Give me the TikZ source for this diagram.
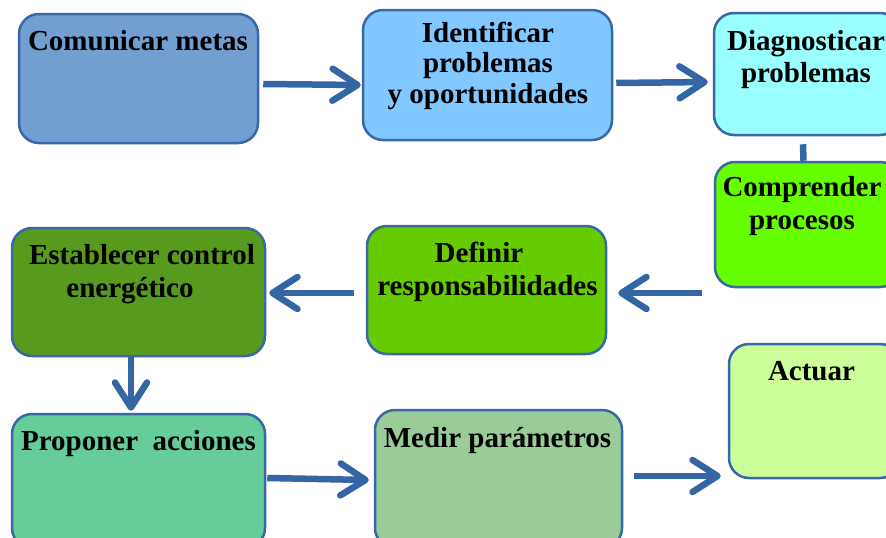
\documentclass[tikz,border=0pt]{standalone}
\usepackage{fontspec}
\setmainfont{Liberation Serif}
\usetikzlibrary{arrows.meta}
\definecolor{edgeblue}{RGB}{58,103,168}
\definecolor{arrowblue}{RGB}{52,101,164}
\definecolor{cA}{RGB}{114,159,207}
\definecolor{cB}{RGB}{128,200,255}
\definecolor{cC}{RGB}{153,255,255}
\definecolor{cD}{RGB}{102,255,0}
\definecolor{cE}{RGB}{102,204,0}
\definecolor{cF}{RGB}{88,154,30}
\definecolor{cG}{RGB}{102,204,153}
\definecolor{cH}{RGB}{153,204,153}
\definecolor{cI}{RGB}{204,255,153}
\tikzset{
  box/.style={draw=edgeblue, line width=2.5pt, rounded corners=20pt, inner sep=0pt},
  lbl/.style={anchor=base, inner sep=0pt, font=\fontsize{29}{32}\selectfont\bfseries, align=center},
  arr/.style={draw=arrowblue, line width=6.5pt, -{Straight Barb[length=25pt, width=32pt, round]}},
  conn/.style={draw=arrowblue, line width=6.5pt},
}
\begin{document}
\begin{tikzpicture}[x=1pt, y=-1pt]
\clip (0,0) rectangle (886,538);
\fill[white] (0,0) rectangle (886,538);
% boxes
\node[box, fill=cA, minimum width=239pt, minimum height=129pt] (b1) at (138.5,78.5) {};
\node[box, fill=cB, minimum width=249pt, minimum height=130pt] (b2) at (487.5,75) {};
\node[box, fill=cC, minimum width=186pt, minimum height=122pt] (b3) at (807,74) {};
\node[box, fill=cD, minimum width=185pt, minimum height=125pt] (b4) at (807.5,224.5) {};
\node[box, fill=cE, minimum width=239pt, minimum height=128pt] (b5) at (486.5,290) {};
\node[box, fill=cF, minimum width=253pt, minimum height=128pt] (b6) at (138.5,292) {};
\node[box, fill=cG, minimum width=253pt, minimum height=134pt] (b7) at (138.5,481) {};
\node[box, fill=cH, minimum width=247pt, minimum height=138pt] (b8) at (498.5,479) {};
\node[box, fill=cI, minimum width=171pt, minimum height=134pt] (b9) at (814.5,411) {};
% texts (multi-line nodes: base anchor = last line baseline)
\node[lbl] (t1) at (138,50) {Comunicar metas};
\node[lbl, font=\fontsize{29}{30.5}\selectfont\bfseries] (t2) at (488,103) {Identificar\\problemas\\y oportunidades};
\node[lbl] (t3) at (806,82) {Diagnosticar\\problemas};
\node[lbl, font=\fontsize{29}{33}\selectfont\bfseries] (t4) at (802,229) {Comprender\\procesos};
\node[lbl] (t5a) at (479,262) {Definir};
\node[lbl] (t5b) at (487.5,295) {responsabilidades};
\node[lbl] (t6a) at (142,264) {Establecer control};
\node[lbl] (t6b) at (130,297) {energético};
\node[lbl] (t7) at (138.5,450) {Proponer\ \ acciones};
\node[lbl] (t8) at (497.5,447) {Medir parámetros};
\node[lbl] (t9) at (811.5,380) {Actuar};
% connectors
\draw[arr] ([shift={(4,5.5)}]b1.east) -- ([shift={(-1,10)}]b2.west);
\draw[arr] ([shift={(3,8)}]b2.east) -- ([shift={(-5,8)}]b3.west);
\draw[conn] ([shift={(-4,8)}]b3.south) -- ([xshift=-4]b4.north);
\draw[arr] ([shift={(-12,68.5)}]b4.west) -- ([shift={(11,3)}]b5.east);
\draw[arr] ([shift={(-12,3)}]b5.west) -- ([shift={(3,1)}]b6.east);
\draw[arr] ([xshift=-7.5]b6.south) -- ([shift={(-7.5,-2)}]b7.north);
\draw[arr] ([shift={(1,-3)}]b7.east) -- ([shift={(-5,1)}]b8.west);
\draw[arr] ([shift={(11,-3)}]b8.east) -- ([shift={(-7,65)}]b9.west);
\end{tikzpicture}
\end{document}
